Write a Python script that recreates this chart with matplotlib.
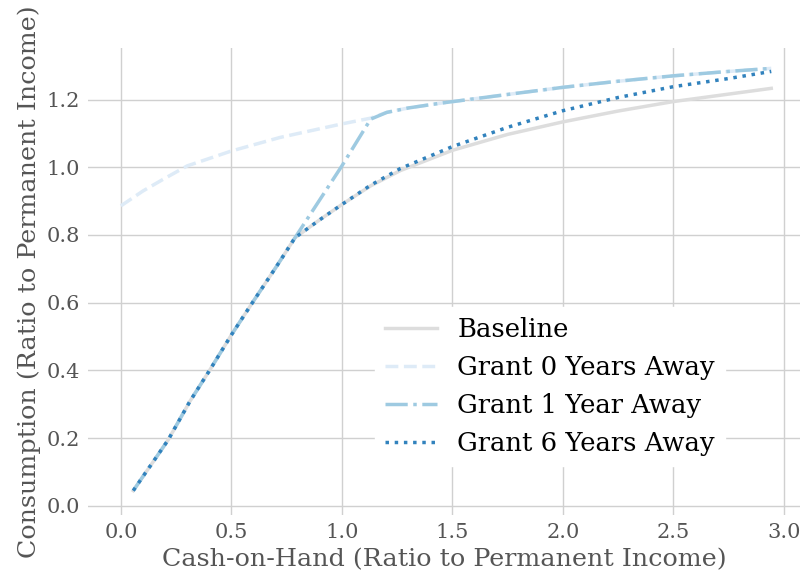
import matplotlib
matplotlib.use("Agg")
import matplotlib.pyplot as plt

# Consumption functions: cash-on-hand (x) vs consumption (y), ratio to permanent income
base_x = [0.056, 0.10, 0.15, 0.214, 0.3125, 0.403, 0.501, 0.599, 0.705, 0.788,
          0.90, 1.00, 1.13, 1.264, 1.50, 1.75, 2.00, 2.25, 2.50, 2.75, 2.943]
base_y = [0.045, 0.087, 0.134, 0.195, 0.309, 0.402, 0.506, 0.604, 0.708, 0.792,
          0.845, 0.890, 0.945, 0.990, 1.050, 1.097, 1.134, 1.166, 1.194, 1.216, 1.233]

grant0_x = [0.0, 0.10, 0.19, 0.30, 0.50, 0.72, 1.00, 1.13, 1.203, 1.30, 1.444,
            1.75, 2.00, 2.25, 2.50, 2.75, 2.943]
grant0_y = [0.886, 0.930, 0.964, 1.004, 1.048, 1.088, 1.128, 1.145, 1.162, 1.175, 1.189,
            1.215, 1.236, 1.254, 1.270, 1.283, 1.292]

grant1_x = [0.056, 0.10, 0.15, 0.214, 0.3125, 0.403, 0.501, 0.599, 0.705, 0.788,
            1.00, 1.13, 1.203, 1.30, 1.444, 1.75, 2.00, 2.25, 2.50, 2.75, 2.943]
grant1_y = [0.045, 0.087, 0.134, 0.195, 0.309, 0.402, 0.506, 0.604, 0.708, 0.792,
            1.004, 1.142, 1.162, 1.175, 1.189, 1.215, 1.236, 1.254, 1.270, 1.283, 1.292]

grant6_x = [0.056, 0.10, 0.15, 0.214, 0.3125, 0.403, 0.501, 0.599, 0.705, 0.788,
            0.90, 1.00, 1.13, 1.264, 1.50, 1.75, 2.00, 2.25, 2.50, 2.75, 2.943]
grant6_y = [0.045, 0.087, 0.134, 0.195, 0.309, 0.402, 0.506, 0.604, 0.708, 0.792,
            0.845, 0.890, 0.947, 0.996, 1.061, 1.118, 1.167, 1.206, 1.238, 1.262, 1.283]

labels = ["Baseline", "Grant 0 Years Away", "Grant 1 Year Away", "Grant 6 Years Away"]
colors = ["#dddddd", "#deebf7", "#9ecae1", "#3182bd"]
styles = ["-", "--", "-.", ":"]

plt.rcParams["font.family"] = ["DejaVu Serif"]

fig = plt.figure(figsize=(8.02, 5.79), dpi=100)
ax = fig.add_axes([0.1097, 0.1105, 0.8878, 0.8065])

series = [(base_x, base_y), (grant0_x, grant0_y), (grant1_x, grant1_y), (grant6_x, grant6_y)]
for (xs, ys), lab, c, ls in zip(series, labels, colors, styles):
    ax.plot(xs, ys, color=c, linestyle=ls, linewidth=2.5, label=lab)

ax.set_xlim(-0.149, 3.073)
ax.set_ylim(-0.027, 1.352)
ax.set_xticks([0.0, 0.5, 1.0, 1.5, 2.0, 2.5, 3.0])
ax.set_yticks([0.0, 0.2, 0.4, 0.6, 0.8, 1.0, 1.2])
ax.grid(True, color="#d0d0d0", linewidth=1.0)
ax.set_axisbelow(True)
for s in ax.spines.values():
    s.set_visible(False)
ax.tick_params(length=0, labelsize=15, labelcolor="#555555", pad=6)

ax.set_xlabel("Cash-on-Hand (Ratio to Permanent Income)", fontsize=18.3, color="#555555")
ax.set_ylabel("Consumption (Ratio to Permanent Income)", fontsize=18.3, color="#555555")

leg = ax.legend(loc="lower right", bbox_to_anchor=(0.895, 0.105), borderaxespad=0,
                fontsize=18.6, frameon=True, facecolor="white", edgecolor="white",
                framealpha=1.0, fancybox=False)

fig.savefig("out.png", dpi=100)
